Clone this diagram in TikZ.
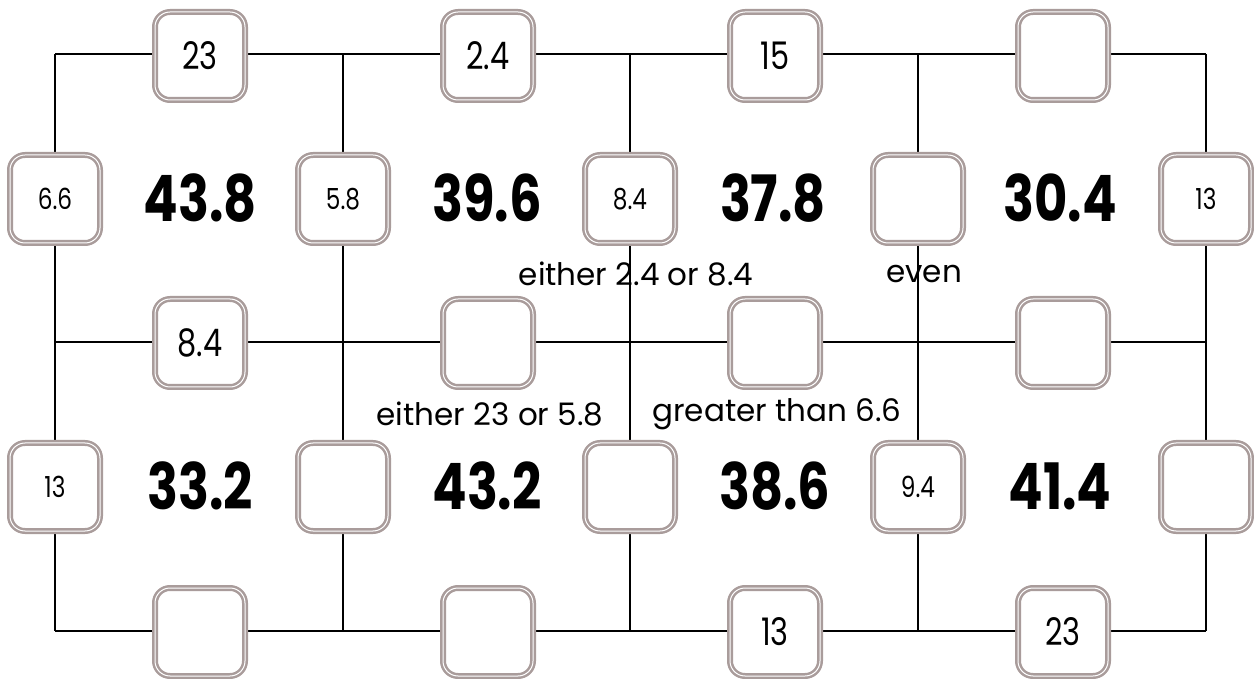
\documentclass[tikz,border=0pt]{standalone}
\usepackage{fontspec}
\setmainfont{Poppins}
\usepackage{graphicx}
\usepackage{tikz}

\definecolor{boxgrey}{HTML}{A99C9B}
\newcommand{\narrow}[1]{\scalebox{0.8}[1]{#1}}

\begin{document}
\begin{tikzpicture}[
    x=0.5pt,y=-0.5pt,
    grid/.style={line width=1.1pt},
    cell/.style={draw=boxgrey,double=white,double distance=0.5pt,line width=1.25pt,rounded corners=7.5pt,fill=white,minimum width=45pt,minimum height=44pt,inner sep=0pt,font=\fontsize{19}{19}\selectfont},
    side/.style={cell,font=\fontsize{14.5}{14.5}\selectfont},
    total/.style={font=\fontsize{32}{32}\selectfont\bfseries},
    hint/.style={font=\fontsize{15.5}{15.5}\selectfont}
]
\useasboundingbox (0,0) rectangle (1254,679);
% grid corners
\coordinate (a0) at (55,54);   \coordinate (a1) at (343,54);  \coordinate (a2) at (630,54);  \coordinate (a3) at (918,54);  \coordinate (a4) at (1206,54);
\coordinate (b0) at (55,342);  \coordinate (b1) at (343,342); \coordinate (b2) at (630,342); \coordinate (b3) at (918,342); \coordinate (b4) at (1206,342);
\coordinate (c0) at (55,631);  \coordinate (c1) at (343,631); \coordinate (c2) at (630,631); \coordinate (c3) at (918,631); \coordinate (c4) at (1206,631);
\draw[grid] (a0) -- (a4);
\draw[grid] (b0) -- (b4);
\draw[grid] (c0) -- (c4);
\draw[grid] (a0) -- (c0);
\draw[grid] (a1) -- (c1);
\draw[grid] (a2) -- (c2);
\draw[grid] (a3) -- (c3);
\draw[grid] (a4) -- (c4);

% boxes on the horizontal lines
\node[cell] (top1) at (200,56) {\narrow{23}};
\node[cell] (top2) at (488,56) {\narrow{2.4}};
\node[cell] (top3) at (775,56) {\narrow{15}};
\node[cell] (top4) at (1063,56) {};
\node[cell] (mid1) at (200,343) {\narrow{8.4}};
\node[cell] (mid2) at (488,343) {};
\node[cell] (mid3) at (775,343) {};
\node[cell] (mid4) at (1063,343) {};
\node[cell] (bot1) at (200,632) {};
\node[cell] (bot2) at (488,632) {};
\node[cell] (bot3) at (775,632) {\narrow{13}};
\node[cell] (bot4) at (1063,632) {\narrow{23}};

% boxes on the vertical lines
\node[side] (up0) at (55,199) {\narrow{6.6}};
\node[side] (up1) at (343,199) {\narrow{5.8}};
\node[side] (up2) at (630,199) {\narrow{8.4}};
\node[side] (up3) at (918,199) {};
\node[side] (up4) at (1206,199) {\narrow{13}};
\node[side] (lo0) at (55,487) {\narrow{13}};
\node[side] (lo1) at (343,487) {};
\node[side] (lo2) at (630,487) {};
\node[side] (lo3) at (918,487) {\narrow{9.4}};
\node[side] (lo4) at (1206,487) {};

% cell totals
\node[total] (sum1) at (200,198) {\narrow{43.8}};
\node[total] (sum2) at (487,198) {\narrow{39.6}};
\node[total] (sum3) at (773,198) {\narrow{37.8}};
\node[total] (sum4) at (1060,198) {\narrow{30.4}};
\node[total] (sum5) at (200,486) {\narrow{33.2}};
\node[total] (sum6) at (487,486) {\narrow{43.2}};
\node[total] (sum7) at (775,486) {\narrow{38.6}};
\node[total] (sum8) at (1060,486) {\narrow{41.4}};

% clues
\node[hint] (clue1) at (636,274) {either 2.4 or 8.4};
\node[hint] (clue2) at (924,274) {even};
\node[hint] (clue3) at (490,414) {either 23 or 5.8};
\node[hint] (clue4) at (777,414) {greater than 6.6};
\end{tikzpicture}
\end{document}
